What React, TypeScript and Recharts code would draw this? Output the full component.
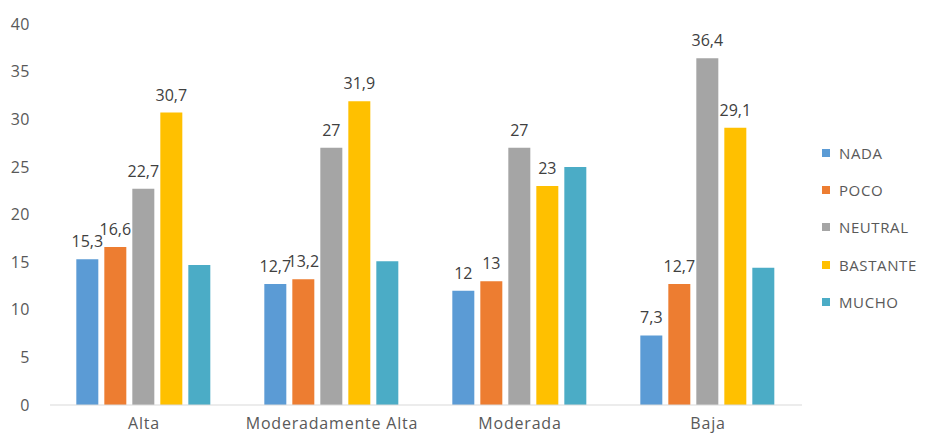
import React from 'react';
import { BarChart, Bar, XAxis, YAxis, LabelList } from 'recharts';

const categories = ['Alta', 'Moderadamente Alta', 'Moderada', 'Baja'];
const nada = [15.3, 12.7, 12, 7.3];
const poco = [16.6, 13.2, 13, 12.7];
const neutral = [22.7, 27, 27, 36.4];
const bastante = [30.7, 31.9, 23, 29.1];
const mucho = [14.7, 15.1, 25, 14.4];
const yTicks = [0, 5, 10, 15, 20, 25, 30, 35, 40];

const data = categories.map((name, i) => ({
  name,
  NADA: nada[i],
  POCO: poco[i],
  NEUTRAL: neutral[i],
  BASTANTE: bastante[i],
  MUCHO: mucho[i],
}));

const series = [
  { key: 'NADA', color: '#5B9BD5', labels: true },
  { key: 'POCO', color: '#ED7D31', labels: true },
  { key: 'NEUTRAL', color: '#A5A5A5', labels: true },
  { key: 'BASTANTE', color: '#FFC000', labels: true },
  { key: 'MUCHO', color: '#4BACC6', labels: false },
];

const font = '"Open Sans", sans-serif';
const fmt = (v: any) => String(v).replace('.', ',');

const App: React.FC = () => {
  return (
    <div style={{ position: 'absolute', left: 0, top: 0, width: 934, height: 437, background: '#fff' }}>
      <BarChart
        width={934}
        height={437}
        data={data}
        margin={{ top: 24, right: 132, left: 0, bottom: 0 }}
        barCategoryGap="14%"
        barGap={6}
      >
        <XAxis
          dataKey="name"
          height={32}
          tickSize={0}
          tickMargin={13}
          interval={0}
          axisLine={{ stroke: '#d9d9d9' }}
          tickLine={false}
          tick={{ fill: '#595959', fontSize: 16, fontFamily: font, letterSpacing: 0.8 }}
        />
        <YAxis
          domain={[0, 40]}
          ticks={yTicks}
          interval={0}
          width={50}
          tickSize={0}
          tickMargin={20}
          axisLine={false}
          tickLine={false}
          tick={{ fill: '#595959', fontSize: 16, fontFamily: font, letterSpacing: 0.5 }}
        />
        {series.map((s) => (
          <Bar key={s.key} dataKey={s.key} fill={s.color} isAnimationActive={false}>
            {s.labels && (
              <LabelList
                dataKey={s.key}
                position="top"
                offset={12}
                formatter={fmt}
                style={{ fill: '#404040', fontSize: 16, fontFamily: font }}
              />
            )}
          </Bar>
        ))}
      </BarChart>
      <div
        style={{
          position: 'absolute',
          left: 822,
          top: 134,
          fontFamily: font,
          fontSize: 15,
          color: '#595959',
          letterSpacing: 0.6,
        }}
      >
        {series.map((s) => (
          <div key={s.key} style={{ display: 'flex', alignItems: 'center', height: 37.3 }}>
            <span style={{ width: 8, height: 8, background: s.color, marginRight: 9, display: 'inline-block' }} />
            <span>{s.key}</span>
          </div>
        ))}
      </div>
    </div>
  );
};

export default App;
